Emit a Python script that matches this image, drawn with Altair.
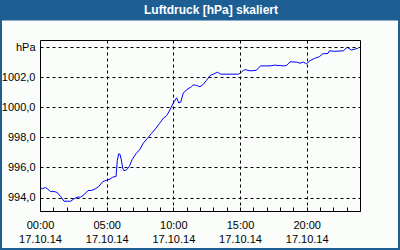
import altair as alt
import pandas as pd

# time in hours since 17.10.14 00:00
hours = [0.05, 0.17, 0.4, 0.55, 0.8, 1.1, 1.3, 1.55, 1.8, 2.3, 2.5, 2.8, 3.05, 3.35, 3.6,
         3.85, 4.15, 4.4, 4.7, 5.05, 5.25, 5.45, 5.7, 5.8, 5.9, 6.0, 6.1, 6.2, 6.3, 6.5,
         6.7, 6.9, 7.2, 7.5, 7.75, 8.05, 8.35, 8.65, 8.95, 9.25, 9.5, 9.7, 10.0, 10.25,
         10.4, 10.55, 10.75, 11.1, 11.35, 11.5, 11.75, 12.0, 12.25, 12.5, 12.75, 13.0,
         13.3, 13.55, 14.9, 15.1, 15.25, 15.4, 15.75, 16.2, 16.55, 17.25, 17.6, 18.25,
         18.5, 18.75, 19.25, 19.5, 19.75, 20.0, 20.25, 20.6, 20.95, 21.2, 21.6, 21.7,
         22.1, 22.75, 23.05, 23.35, 23.6, 23.85]
hpa = [994.67, 994.58, 994.67, 994.58, 994.40, 994.40, 994.33, 994.07, 993.76, 993.76,
       993.89, 994.03, 994.03, 994.23, 994.47, 994.47, 994.58, 994.73, 995.05, 995.18,
       995.23, 995.36, 995.40, 996.47, 996.91, 996.87, 996.51, 995.96, 995.78, 995.85,
       996.07, 996.51, 996.91, 997.22, 997.62, 997.93, 998.25, 998.56, 998.91, 999.27,
       999.45, 999.75, 1000.29, 1000.63, 1000.29, 1000.33, 1000.96, 1001.23, 1001.36,
       1001.49, 1001.45, 1001.36, 1001.53, 1001.80, 1002.11, 1002.20, 1002.33, 1002.20,
       1002.20, 1002.33, 1002.45, 1002.50, 1002.42, 1002.45, 1002.75, 1002.75, 1002.80,
       1002.75, 1002.78, 1003.02, 1003.00, 1002.93, 1003.00, 1002.89, 1003.10, 1003.25,
       1003.36, 1003.55, 1003.58, 1003.75, 1003.72, 1003.75, 1003.98, 1003.80, 1003.86,
       1003.92]

y_ticks = [994, 996, 998, 1000, 1002, 1004]
x_ticks = list(range(0, 25))
date_label = "17.10.14"
title_text = "Luftdruck [hPa] skaliert"

BLUE = "#1d5e94"
FONT = "Liberation Sans"

df = pd.DataFrame({"h": hours, "p": hpa})

x_axis = alt.Axis(
    values=x_ticks, title=None, domain=False, offset=-4, tickSize=4, tickColor="black",
    tickWidth=1, labelFont=FONT, labelFontSize=11, labelColor="black", labelPadding=8,
    labelLineHeight=14.5, labelOverlap=False, labelFlush=False,
    labelExpr="datum.value % 5 === 0 && datum.value < 24 ? [(datum.value < 10 ? '0' : '') + datum.value + ':00', '" + date_label + "'] : ''",
    grid=True, gridColor="black", gridDash=[3, 3], gridWidth=1,
    gridOpacity={"condition": {"test": "datum.value % 5 === 0 && datum.value > 0 && datum.value < 24", "value": 1}, "value": 0},
    zindex=1,
)
y_axis = alt.Axis(
    values=y_ticks, title=None, domain=False, ticks=False, labelPadding=5,
    labelFont=FONT, labelFontSize=11, labelColor="black",
    labelExpr="datum.value == 1004 ? 'hPa' : replace(format(datum.value, '.1f'), '.', ',')",
    grid=True, gridColor="black", gridDash=[3, 3], gridWidth=1, zindex=1,
)

line = alt.Chart(df).mark_line(color="#0000ff", strokeWidth=1).encode(
    x=alt.X("h:Q", scale=alt.Scale(domain=[0, 24], nice=False, zero=False), axis=x_axis),
    y=alt.Y("p:Q", scale=alt.Scale(domain=[993.11, 1004.47], nice=False, zero=False), axis=y_axis),
)

one = alt.Data(values=[{"k": 1}])
title_bar = alt.Chart(one).mark_rect(fill=BLUE).encode(
    x=alt.value(-40), x2=alt.value(360), y=alt.value(-40), y2=alt.value(-19.5)
)
title_mark = alt.Chart(one).mark_text(
    text=title_text, color="white", font=FONT, fontSize=12, fontWeight="bold",
    align="center", baseline="alphabetic",
).encode(x=alt.value(171), y=alt.value(-26))
border = alt.Chart(one).mark_rect(filled=False, stroke=BLUE, strokeWidth=2).encode(
    x=alt.value(-39), x2=alt.value(359), y=alt.value(-39), y2=alt.value(209)
)

chart = alt.layer(title_bar, title_mark, border, line).properties(
    width=320, height=171,
    autosize=alt.AutoSizeParams(type="none"),
    padding={"left": 40, "top": 40, "right": 40, "bottom": 39},
    background="#fafdfa",
).configure_view(stroke="black", strokeWidth=1)

chart.save("out.html", embed_options={"renderer": "svg", "actions": False})
